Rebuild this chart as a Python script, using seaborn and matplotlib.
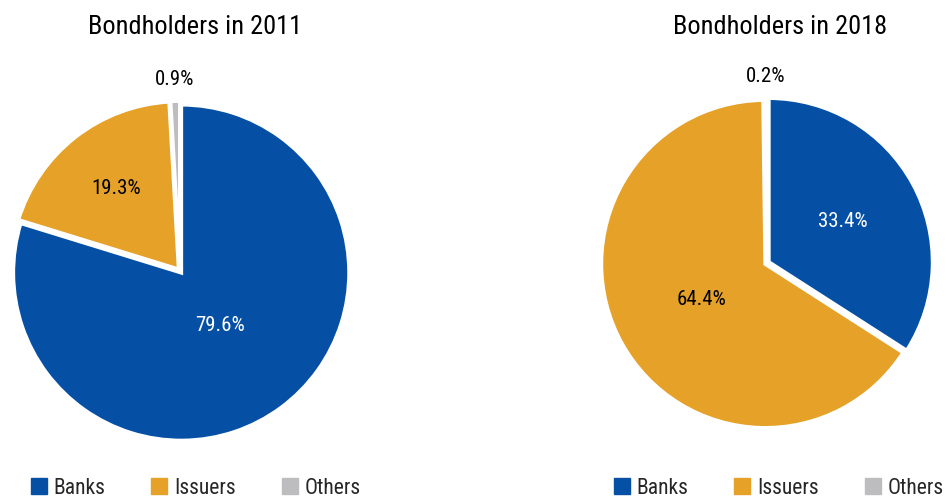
import numpy as np
import matplotlib
matplotlib.use("Agg")
import matplotlib.pyplot as plt
import seaborn as sns
from matplotlib.lines import Line2D

sns.set_theme(style="white")
plt.rcParams['font.family'] = ['Roboto Condensed', 'Archivo Narrow', 'Roboto', 'DejaVu Sans']

# ---- data ----
categories = ["Banks", "Issuers", "Others"]
years = ["2011", "2018"]
values_2011 = [79.6, 19.3, 0.9]
values_2018 = [33.4, 64.4, 0.2]
colors = ["#0550A5", "#E5A128", "#BDBDBF"]
text_colors = ["white", "black", "black"]

fig = plt.figure(figsize=(9.46, 4.97), dpi=100)
W, H = 946, 497

def add_pie(cx, cy, r, values, year, label_dist, title_x, leg_x):
    pad = 1.05
    half = r * pad
    ax = fig.add_axes([(cx - half) / W, (H - cy - half) / H, 2 * half / W, 2 * half / H])
    wedges, _ = ax.pie(values, colors=colors, startangle=90, counterclock=False,
                       explode=[0.012] * len(values),
                       wedgeprops=dict(edgecolor="white", linewidth=2.8))
    ax.set_xlim(-pad, pad)
    ax.set_ylim(-pad, pad)
    ax.set_aspect("equal")
    for w, v, d, tc in zip(wedges, values, label_dist, text_colors):
        ang = np.deg2rad((w.theta1 + w.theta2) / 2)
        ax.text(d * np.cos(ang), d * np.sin(ang), f"{v:.1f}%", ha="center", va="center",
                fontsize=15, color=tc)
    fig.text(title_x / W, 1 - 27 / H, f"Bondholders in {year}", ha="center", va="center",
             fontsize=19, color="black")
    handles = [Line2D([0], [0], marker="s", linestyle="none", markersize=12,
                      markerfacecolor=c, markeredgecolor=c) for c in colors]
    fig.legend(handles, categories, loc="center", bbox_to_anchor=(leg_x / W, 9 / H),
               ncol=3, frameon=False, fontsize=15.5, handlelength=0.9,
               handletextpad=0.25, columnspacing=2.05, borderpad=0, borderaxespad=0)
    return ax

add_pie(180, 271, 168, values_2011, years[0], [0.40, 0.62, 1.14], 195, 195)
add_pie(767, 263, 164, values_2018, years[1], [0.53, 0.46, 1.14], 780, 778)

fig.savefig("out.png", dpi=100)
